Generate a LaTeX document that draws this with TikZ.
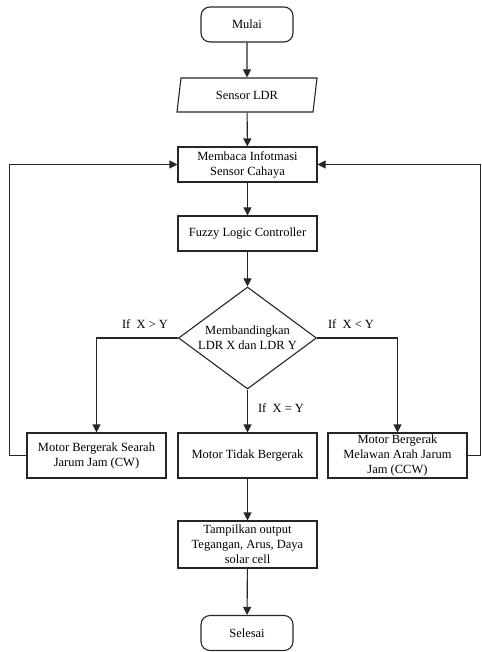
\documentclass[tikz,border=0pt]{standalone}
\usepackage{fontspec}
\setmainfont{Liberation Serif}
\usetikzlibrary{shapes.geometric,arrows.meta}
\tikzset{ % Common styles, so the boxes all look alike
	Garis/.style={draw=black!85, line width=1.1pt},
	Teks/.style={font=\fontsize{12.5}{15}\selectfont, align=center},
	Kotak/.style={Garis, Teks, rectangle, minimum width=139pt, minimum height=35pt, inner sep=1pt},
	Terminal/.style={Kotak, rounded corners=9pt, minimum width=92pt},
	DataIO/.style={Garis, Teks, trapezium, trapezium left angle=69, trapezium right angle=111,
		trapezium stretches body, minimum width=140pt, minimum height=34pt, inner sep=1pt},
	Keputusan/.style={Garis, Teks, diamond, aspect=1.353, minimum width=138pt, minimum height=102pt, inner sep=-2pt},
	Panah/.style={Garis, -{Triangle[length=8pt,width=8pt]}},
	Syarat/.style={Teks}
}
\begin{document}
\begin{tikzpicture}[x=1pt,y=-1pt]
		\useasboundingbox (0,0) rectangle (481,652);
		% Nodes
		\node [Terminal] (mulai) at (247,24.5) {Mulai};
		\node [DataIO] (sensor) at (247,95) {Sensor LDR};
		\node [Kotak] (membaca) at (247.5,164.5) {Membaca Infotmasi\\Sensor Cahaya};
		\node [Kotak] (fuzzy) at (247.5,233.5) {Fuzzy Logic Controller};
		\node [Keputusan] (banding) at (247.5,338) {Membandingkan\\LDR X dan LDR Y};
		\node [Kotak, minimum height=45pt] (searah) at (96.5,455.5) {Motor Bergerak Searah\\Jarum Jam (CW)};
		\node [Kotak, minimum height=45pt] (diam) at (247.5,455.5) {Motor Tidak Bergerak};
		\node [Kotak, minimum height=45pt, inner ysep=0pt] (melawan) at (397.5,455.5) {Motor Bergerak\\Melawan Arah Jarum\\Jam (CCW)};
		\node [Kotak, minimum height=47pt] (tampil) at (247.5,544.5) {Tampilkan output\\Tegangan, Arus, Daya\\solar cell};
		\node [Terminal] (selesai) at (247,633) {Selesai};
		% Conditions
		\node [Syarat] (kiri) at (145,324) {If\ \ X > Y};
		\node [Syarat] (kanan) at (351,324) {If\ \ X < Y};
		\node [Syarat] (tengah) at (281,408) {If\ \ X = Y};
		% Return points
		\coordinate (balikKiri) at (9.5,164.5);
		\coordinate (balikKanan) at (480.5,164.5);
		% Arrows
		\draw [Panah] (mulai) -- (sensor);
		\draw [Panah] (sensor) -- (membaca);
		\draw [Panah] (membaca) -- (fuzzy);
		\draw [Panah] (fuzzy) -- (banding);
		\draw [Panah] (banding.west) -| (searah.north);
		\draw [Panah] (banding.east) -| (melawan.north);
		\draw [Panah] (banding.south) -- (diam.north);
		\draw [Panah] (diam) -- (tampil);
		\draw [Panah] (tampil) -- (selesai);
		\draw [Panah] (searah.west) -| (balikKiri) -- (membaca.west);
		\draw [Panah] (melawan.east) -| (balikKanan) -- (membaca.east);
\end{tikzpicture}
\end{document}
